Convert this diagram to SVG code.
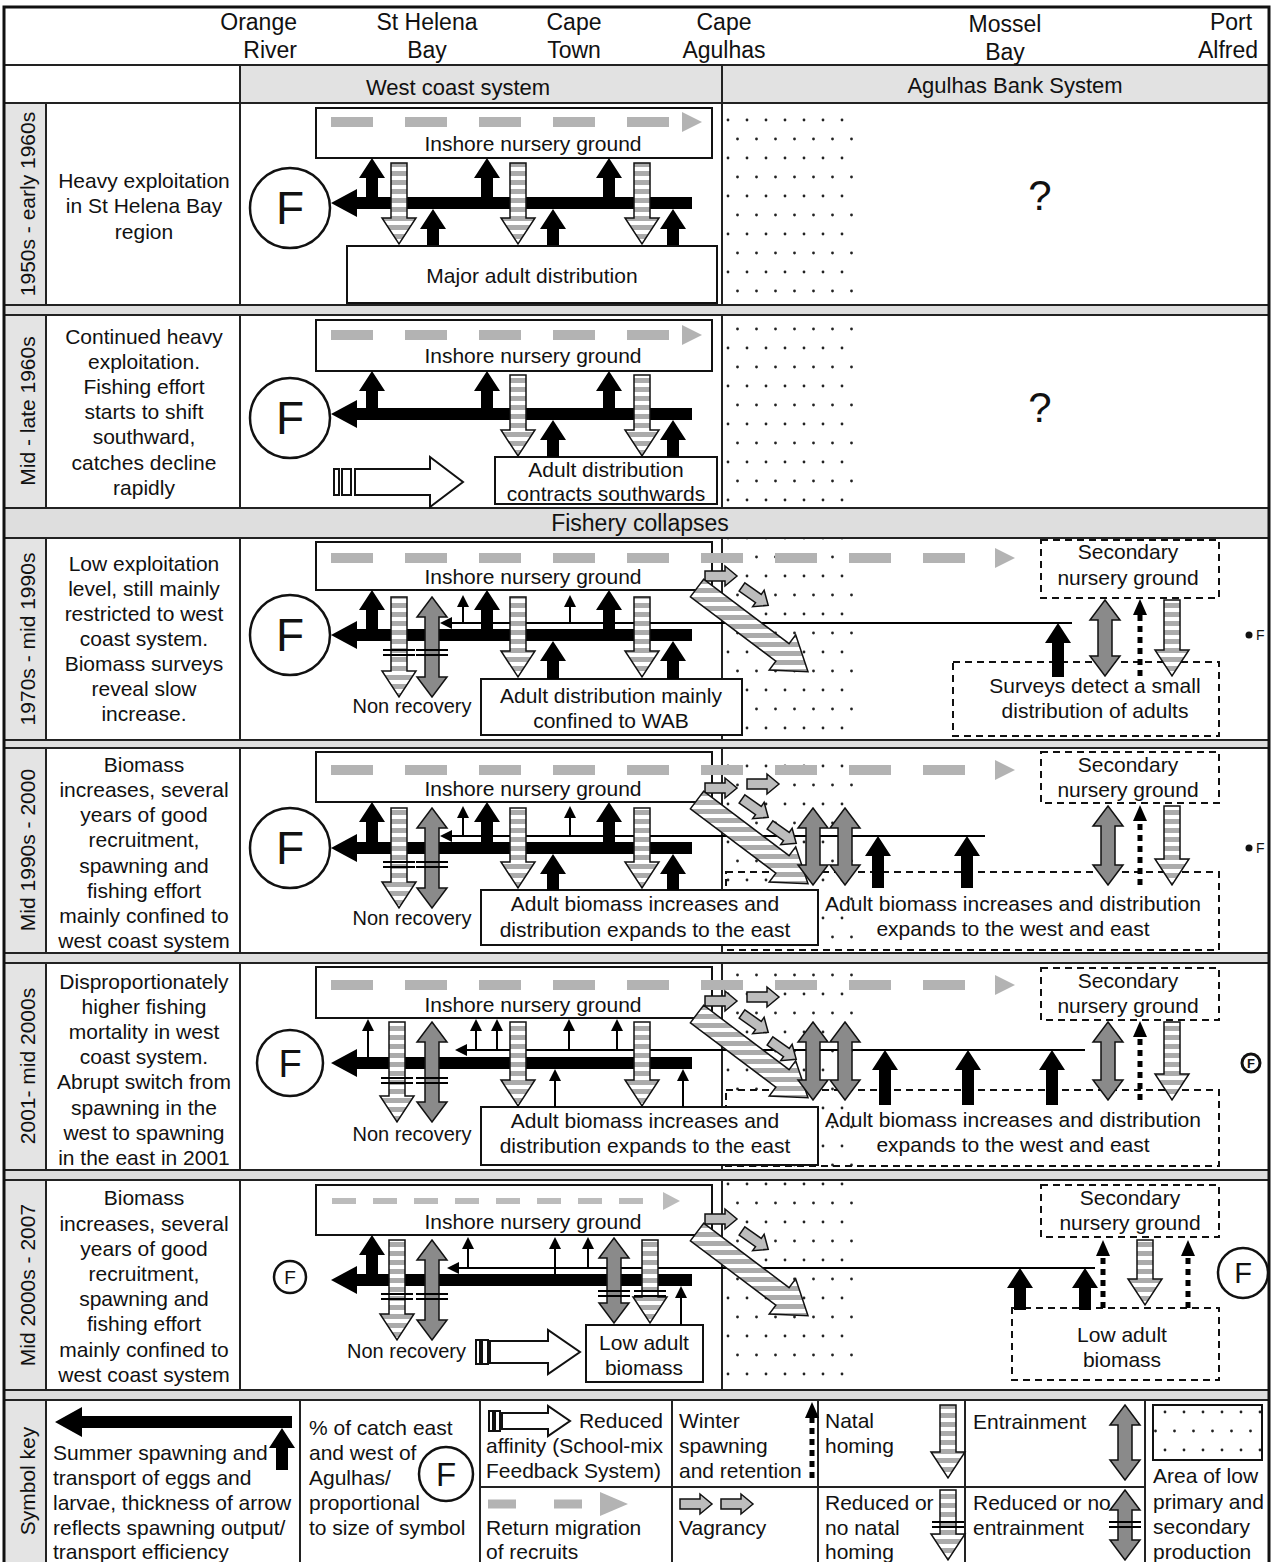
<svg xmlns="http://www.w3.org/2000/svg" xmlns:xlink="http://www.w3.org/1999/xlink" width="1271" height="1562" viewBox="0 0 1271 1562">
<style>
text{font-family:"Liberation Sans",Arial,Helvetica,sans-serif;fill:#111;font-size:21px}
.hd{font-size:23px;text-anchor:middle}
.c{text-anchor:middle}
.e{text-anchor:end}
.box{fill:#fff;stroke:#111;stroke-width:2}
.dbox{fill:none;stroke:#111;stroke-width:2;stroke-dasharray:7 5}
.blk{fill:#000}
.str{fill:url(#stripes);stroke:#111;stroke-width:1.5}
.strd{fill:url(#stripesD);stroke:#111;stroke-width:1.5}
.ent{fill:#8a8a8a;stroke:#111;stroke-width:1.5}
.vag{fill:#bdbdbd;stroke:#111;stroke-width:1.5}
.ret{stroke:#b3b3b3;stroke-width:10;stroke-dasharray:42 32;fill:none}
.ret2{stroke:#bcbcbc;stroke-width:6;stroke-dasharray:24 17;fill:none}
.reth{fill:#b3b3b3}
.thin{stroke:#000;stroke-width:2;fill:none}
.bar{stroke:#000;stroke-width:2.2}
.dt{stroke:#000;stroke-width:5;stroke-dasharray:6 5;fill:none}
.aff{fill:#fff;stroke:#111;stroke-width:2}
.fc{fill:#fff;stroke:#111;stroke-width:2.5}
.band{fill:#dedede;stroke:#222;stroke-width:2}
.yr{fill:#e4e4e4}
.grid{stroke:#222;stroke-width:2;fill:none}
.F{text-anchor:middle}
</style>
<defs>
<pattern id="dots" width="38" height="38" patternUnits="userSpaceOnUse">
<circle cx="6" cy="6" r="1.4" fill="#222"/><circle cx="25" cy="6" r="1.4" fill="#222"/>
<circle cx="15.5" cy="25" r="1.4" fill="#222"/><circle cx="34.5" cy="25" r="1.4" fill="#222"/>
</pattern>
<pattern id="stripes" width="10" height="9" patternUnits="userSpaceOnUse">
<rect width="10" height="9" fill="#fff"/><rect width="10" height="5" fill="#ababab"/>
</pattern>
<pattern id="stripesD" width="200" height="9" patternUnits="userSpaceOnUse" patternTransform="rotate(-37)">
<rect width="200" height="9" fill="#fff"/><rect width="200" height="5" fill="#ababab"/>
</pattern>
<path id="vag" class="vag" d="M0,-5H20V-10L32,0L20,10V5H0Z"/>
<path id="diag" class="strd" d="M0,-11H107V-22L139,0L107,22V11H0Z"/>
</defs>

<g id="frame">
<rect x="0" y="0" width="1271" height="1562" fill="#fff"/>
<rect x="240" y="65" width="1029" height="38" fill="#e2e2e2"/>
<rect class="yr" x="4" y="103" width="42" height="202"/>
<rect class="yr" x="4" y="315" width="42" height="193"/>
<rect class="yr" x="4" y="538" width="42" height="202"/>
<rect class="yr" x="4" y="748" width="42" height="205"/>
<rect class="yr" x="4" y="963" width="42" height="207"/>
<rect class="yr" x="4" y="1180" width="42" height="210"/>
<rect class="yr" x="4" y="1400" width="42" height="170"/>
<rect x="722" y="103" width="131" height="202" fill="url(#dots)"/>
<rect x="722" y="315" width="131" height="193" fill="url(#dots)"/>
<rect x="722" y="538" width="131" height="202" fill="url(#dots)"/>
<rect x="722" y="748" width="131" height="205" fill="url(#dots)"/>
<rect x="722" y="963" width="131" height="207" fill="url(#dots)"/>
<rect x="722" y="1180" width="131" height="210" fill="url(#dots)"/>
<rect class="band" x="4" y="305" width="1265" height="10"/>
<rect class="band" x="4" y="508" width="1265" height="30"/>
<rect class="band" x="4" y="740" width="1265" height="8"/>
<rect class="band" x="4" y="953" width="1265" height="10"/>
<rect class="band" x="4" y="1170" width="1265" height="10"/>
<rect class="band" x="4" y="1390" width="1265" height="10"/>
<path class="grid" d="M4,65H1269M4,103H1269M240,65V103M722,65V103
M46,103V305M240,103V305M722,103V305
M46,315V508M240,315V508M722,315V508
M46,538V740M240,538V740M722,538V740
M46,748V953M240,748V953M722,748V953
M46,963V1170M240,963V1170M722,963V1170
M46,1180V1390M240,1180V1390M722,1180V1390
M46,1400V1562M300,1400V1562M480,1400V1562M672,1400V1562M818,1400V1562M965,1400V1562M1145,1400V1562M480,1487H1145"/>
<rect x="4" y="7" width="1265" height="1570" fill="none" stroke="#111" stroke-width="3"/>
<text class="e" x="297" y="30" style="font-size:23px">Orange</text>
<text class="e" x="297" y="58" style="font-size:23px">River</text>
<text class="hd" x="427" y="30">St Helena</text>
<text class="hd" x="427" y="58">Bay</text>
<text class="hd" x="574" y="30">Cape</text>
<text class="hd" x="574" y="58">Town</text>
<text class="hd" x="724" y="30">Cape</text>
<text class="hd" x="724" y="58">Agulhas</text>
<text class="hd" x="1005" y="32">Mossel</text>
<text class="hd" x="1005" y="60">Bay</text>
<text class="hd" x="1231" y="30">Port</text>
<text class="hd" x="1228" y="58">Alfred</text>
<text class="hd" x="458" y="95" style="font-size:22px">West coast system</text>
<text class="hd" x="1015" y="93" style="font-size:22px">Agulhas Bank System</text>
<text class="hd" x="640" y="531">Fishery collapses</text>
</g>

<!-- ROW 1 -->
<g id="row1">
<text class="c" transform="translate(35,204) rotate(-90)">1950s - early 1960s</text>
<text class="c" x="144" y="188">Heavy exploitation</text>
<text class="c" x="144" y="213">in St Helena Bay</text>
<text class="c" x="144" y="239">region</text>
<g id="r1-nursery"><rect class="box" x="316" y="108" width="396" height="50"/><text class="c" x="533" y="151">Inshore nursery ground</text></g>
<g id="r1-adult"><rect class="box" x="347" y="246" width="370" height="57"/><text class="c" x="532" y="283">Major adult distribution</text></g>
<g id="r1-F"><circle class="fc" cx="290" cy="208" r="40"/><text class="F" x="290" y="224" style="font-size:46px">F</text></g>
<text class="c" x="1040" y="210" style="font-size:42px">?</text>
<g id="r1-connectors">
<line class="ret" x1="331" y1="122" x2="670" y2="122"/><path class="reth" d="M682,112L702,122L682,132Z"/>
<path class="blk" d="M331,203L357,189V197H692V209H357V217Z"/>
<path class="blk" d="M366,197V178H359L372,158L385,178H378V197Z"/>
<path class="blk" d="M481,197V178H474L487,158L500,178H493V197Z"/>
<path class="blk" d="M603,197V178H596L609,158L622,178H615V197Z"/>
<path class="blk" d="M427,245V229H420L433,209L446,229H439V245Z"/>
<path class="blk" d="M547,245V229H540L553,209L566,229H559V245Z"/>
<path class="blk" d="M667,245V229H660L673,209L686,229H679V245Z"/>
<path class="str" d="M391,163H407V218H416L399,244L382,218H391Z"/>
<path class="str" d="M510,163H526V218H535L518,244L501,218H510Z"/>
<path class="str" d="M634,163H650V218H659L642,244L625,218H634Z"/>
</g>
</g>

<!-- ROW 2 -->
<g id="row2">
<text class="c" transform="translate(35,411) rotate(-90)">Mid - late 1960s</text>
<text class="c" x="144" y="344">Continued heavy</text>
<text class="c" x="144" y="369">exploitation.</text>
<text class="c" x="144" y="394">Fishing effort</text>
<text class="c" x="144" y="419">starts to shift</text>
<text class="c" x="144" y="444">southward,</text>
<text class="c" x="144" y="470">catches decline</text>
<text class="c" x="144" y="495">rapidly</text>
<g id="r2-nursery"><rect class="box" x="316" y="320" width="396" height="51"/><text class="c" x="533" y="363">Inshore nursery ground</text></g>
<g id="r2-adult"><rect class="box" x="495" y="457" width="222" height="47"/><text class="c" x="606" y="477">Adult distribution</text><text class="c" x="606" y="501">contracts southwards</text></g>
<g id="r2-F"><circle class="fc" cx="290" cy="418" r="40"/><text class="F" x="290" y="434" style="font-size:46px">F</text></g>
<text class="c" x="1040" y="422" style="font-size:42px">?</text>
<g id="r2-connectors">
<line class="ret" x1="331" y1="335" x2="670" y2="335"/><path class="reth" d="M682,325L702,335L682,345Z"/>
<path class="blk" d="M331,414L357,400V408H692V420H357V428Z"/>
<path class="blk" d="M366,408V391H359L372,371L385,391H378V408Z"/>
<path class="blk" d="M481,408V391H474L487,371L500,391H493V408Z"/>
<path class="blk" d="M603,408V391H596L609,371L622,391H615V408Z"/>
<path class="blk" d="M547,457V440H540L553,420L566,440H559V457Z"/>
<path class="blk" d="M667,457V440H660L673,420L686,440H679V457Z"/>
<path class="str" d="M510,375H526V430H535L518,456L501,430H510Z"/>
<path class="str" d="M634,375H650V430H659L642,456L625,430H634Z"/>
<rect class="aff" x="334" y="469" width="5" height="26"/><rect class="aff" x="342" y="469" width="9" height="26"/>
<path class="aff" d="M355,469H430V457L463,482L430,507V495H355Z"/>
</g>
</g>

<!-- ROW 3 -->
<g id="row3">
<text class="c" transform="translate(35,639) rotate(-90)">1970s - mid 1990s</text>
<text class="c" x="144" y="571">Low exploitation</text>
<text class="c" x="144" y="596">level, still mainly</text>
<text class="c" x="144" y="621">restricted to west</text>
<text class="c" x="144" y="646">coast system.</text>
<text class="c" x="144" y="671">Biomass surveys</text>
<text class="c" x="144" y="696">reveal slow</text>
<text class="c" x="144" y="721">increase.</text>
<g id="r3-nursery"><rect class="box" x="316" y="542" width="396" height="48"/><text class="c" x="533" y="584">Inshore nursery ground</text></g>
<g id="r3-adult"><rect class="box" x="481" y="679" width="261" height="56"/><text class="c" x="611" y="703">Adult distribution mainly</text><text class="c" x="611" y="728">confined to WAB</text></g>
<g id="r3-secondary"><rect class="dbox" x="1041" y="540" width="178" height="58"/><text class="c" x="1128" y="559">Secondary</text><text class="c" x="1128" y="585">nursery ground</text></g>
<g id="r3-surveys"><rect class="dbox" x="953" y="662" width="266" height="74"/><text class="c" x="1095" y="693">Surveys detect a small</text><text class="c" x="1095" y="718">distribution of adults</text></g>
<g id="r3-F"><circle class="fc" cx="290" cy="635" r="40"/><text class="F" x="290" y="651" style="font-size:46px">F</text></g>
<g id="r3-Feast"><circle cx="1249" cy="635" r="3.5" fill="#111"/><text x="1256" y="640" style="font-size:14px">F</text></g>
<text class="c" x="412" y="713" style="font-size:20px">Non recovery</text>
<g id="r3-connectors">
<line class="ret" x1="331" y1="558" x2="965" y2="558"/><path class="reth" d="M995,548L1015,558L995,568Z"/>
<path class="blk" d="M331,635L357,621V629H692V641H357V649Z"/>
<line class="thin" x1="450" y1="623" x2="1072" y2="623"/><path class="blk" d="M440,623L452,617V629Z"/>
<path class="blk" d="M366,629V610H359L372,590L385,610H378V629Z"/>
<path class="blk" d="M481,629V610H474L487,590L500,610H493V629Z"/>
<path class="blk" d="M603,629V610H596L609,590L622,610H615V629Z"/>
<line class="thin" x1="463" y1="623" x2="463" y2="605"/><path class="blk" d="M457,607L463,595L469,607Z"/>
<line class="thin" x1="570" y1="623" x2="570" y2="605"/><path class="blk" d="M564,607L570,595L576,607Z"/>
<path class="str" d="M391,597H407V671H416L399,697L382,671H391Z"/>
<path class="ent" d="M432,597L447,617H439V677H447L432,697L417,677H425V617H417Z"/>
<path class="bar" d="M383,650H415M383,655H415M416,650H448M416,655H448"/>
<path class="str" d="M510,597H526V651H535L518,677L501,651H510Z"/>
<path class="str" d="M634,597H650V651H659L642,677L625,651H634Z"/>
<path class="blk" d="M547,679V661H540L553,641L566,661H559V679Z"/>
<path class="blk" d="M667,679V661H660L673,641L686,661H679V679Z"/>
<use xlink:href="#vag" href="#vag" transform="translate(705,576)"/>
<use xlink:href="#vag" href="#vag" transform="translate(742,587) rotate(35)"/>
<use xlink:href="#diag" href="#diag" transform="translate(697,588) rotate(37)"/>
<path class="blk" d="M1052,677V643H1045L1058,623L1071,643H1064V677Z"/>
<path class="ent" d="M1105,600L1120,620H1112V656H1120L1105,676L1090,656H1098V620H1090Z"/>
<line class="dt" x1="1140" y1="676" x2="1140" y2="614"/><path class="blk" d="M1133,615L1140,599L1147,615Z"/>
<path class="str" d="M1164,600H1180V650H1189L1172,676L1155,650H1164Z"/>
</g>
</g>

<!-- ROW 4 -->
<g id="row4">
<text class="c" transform="translate(35,850) rotate(-90)">Mid 1990s - 2000</text>
<text class="c" x="144" y="772">Biomass</text>
<text class="c" x="144" y="797">increases, several</text>
<text class="c" x="144" y="822">years of good</text>
<text class="c" x="144" y="847">recruitment,</text>
<text class="c" x="144" y="873">spawning and</text>
<text class="c" x="144" y="898">fishing effort</text>
<text class="c" x="144" y="923">mainly confined to</text>
<text class="c" x="144" y="948">west coast system</text>
<g id="r4-nursery"><rect class="box" x="316" y="752" width="396" height="50"/><text class="c" x="533" y="796">Inshore nursery ground</text></g>
<g id="r4-secondary"><rect class="dbox" x="1041" y="752" width="178" height="51"/><text class="c" x="1128" y="772">Secondary</text><text class="c" x="1128" y="797">nursery ground</text></g>
<g id="r4-eastadult"><rect class="dbox" x="726" y="872" width="493" height="78"/><text class="c" x="1013" y="911">Adult biomass increases and distribution</text><text class="c" x="1013" y="936">expands to the west and east</text></g>
<g id="r4-adult"><rect class="box" x="481" y="890" width="337" height="55"/><text class="c" x="645" y="911">Adult biomass increases and</text><text class="c" x="645" y="937">distribution expands to the east</text></g>
<g id="r4-F"><circle class="fc" cx="290" cy="848" r="40"/><text class="F" x="290" y="864" style="font-size:46px">F</text></g>
<g id="r4-Feast"><circle cx="1249" cy="848" r="3.5" fill="#111"/><text x="1256" y="853" style="font-size:14px">F</text></g>
<text class="c" x="412" y="925" style="font-size:20px">Non recovery</text>
<g id="r4-connectors">
<line class="ret" x1="331" y1="770" x2="965" y2="770"/><path class="reth" d="M995,760L1015,770L995,780Z"/>
<path class="blk" d="M331,848L357,834V842H692V854H357V862Z"/>
<line class="thin" x1="450" y1="836" x2="985" y2="836"/><path class="blk" d="M440,836L452,830V842Z"/>
<path class="blk" d="M366,842V822H359L372,802L385,822H378V842Z"/>
<path class="blk" d="M481,842V822H474L487,802L500,822H493V842Z"/>
<path class="blk" d="M603,842V822H596L609,802L622,822H615V842Z"/>
<line class="thin" x1="463" y1="836" x2="463" y2="816"/><path class="blk" d="M457,818L463,806L469,818Z"/>
<line class="thin" x1="570" y1="836" x2="570" y2="816"/><path class="blk" d="M564,818L570,806L576,818Z"/>
<path class="str" d="M391,808H407V882H416L399,908L382,882H391Z"/>
<path class="ent" d="M432,808L447,828H439V888H447L432,908L417,888H425V828H417Z"/>
<path class="bar" d="M383,862H415M383,867H415M416,862H448M416,867H448"/>
<path class="str" d="M510,808H526V862H535L518,888L501,862H510Z"/>
<path class="str" d="M634,808H650V862H659L642,888L625,862H634Z"/>
<path class="blk" d="M547,890V874H540L553,854L566,874H559V890Z"/>
<path class="blk" d="M667,890V874H660L673,854L686,874H679V890Z"/>
<use xlink:href="#vag" href="#vag" transform="translate(705,788)"/>
<use xlink:href="#vag" href="#vag" transform="translate(747,784)"/>
<use xlink:href="#vag" href="#vag" transform="translate(742,799) rotate(35)"/>
<use xlink:href="#vag" href="#vag" transform="translate(770,825) rotate(35)"/>
<use xlink:href="#diag" href="#diag" transform="translate(697,800) rotate(37)"/>
<path class="ent" d="M813,808L828,828H820V865H828L813,885L798,865H806V828H798Z"/>
<path class="ent" d="M845,808L860,828H852V865H860L845,885L830,865H838V828H830Z"/>
<path class="blk" d="M872,888V856H865L878,836L891,856H884V888Z"/>
<path class="blk" d="M961,888V856H954L967,836L980,856H973V888Z"/>
<path class="ent" d="M1108,806L1123,826H1115V865H1123L1108,885L1093,865H1101V826H1093Z"/>
<line class="dt" x1="1140" y1="885" x2="1140" y2="820"/><path class="blk" d="M1133,821L1140,805L1147,821Z"/>
<path class="str" d="M1164,806H1180V859H1189L1172,885L1155,859H1164Z"/>
</g>
</g>

<!-- ROW 5 -->
<g id="row5">
<text class="c" transform="translate(35,1066) rotate(-90)">2001- mid 2000s</text>
<text class="c" x="144" y="989">Disproportionately</text>
<text class="c" x="144" y="1014">higher fishing</text>
<text class="c" x="144" y="1039">mortality in west</text>
<text class="c" x="144" y="1064">coast system.</text>
<text class="c" x="144" y="1089">Abrupt switch from</text>
<text class="c" x="144" y="1115">spawning in the</text>
<text class="c" x="144" y="1140">west to spawning</text>
<text class="c" x="144" y="1165">in the east in 2001</text>
<g id="r5-nursery"><rect class="box" x="316" y="967" width="396" height="51"/><text class="c" x="533" y="1012">Inshore nursery ground</text></g>
<g id="r5-secondary"><rect class="dbox" x="1041" y="968" width="178" height="52"/><text class="c" x="1128" y="988">Secondary</text><text class="c" x="1128" y="1013">nursery ground</text></g>
<g id="r5-eastadult"><rect class="dbox" x="726" y="1090" width="493" height="76"/><text class="c" x="1013" y="1127">Adult biomass increases and distribution</text><text class="c" x="1013" y="1152">expands to the west and east</text></g>
<g id="r5-adult"><rect class="box" x="481" y="1107" width="337" height="58"/><text class="c" x="645" y="1128">Adult biomass increases and</text><text class="c" x="645" y="1153">distribution expands to the east</text></g>
<g id="r5-F"><circle class="fc" cx="290" cy="1063" r="33"/><text class="F" x="290" y="1077" style="font-size:38px">F</text></g>
<g id="r5-Feast"><circle cx="1251" cy="1063" r="9" fill="#fff" stroke="#111" stroke-width="3"/><text class="F" x="1251" y="1068" style="font-size:13px;font-weight:bold">F</text></g>
<text class="c" x="412" y="1141" style="font-size:20px">Non recovery</text>
<g id="r5-connectors">
<line class="ret" x1="331" y1="985" x2="965" y2="985"/><path class="reth" d="M995,975L1015,985L995,995Z"/>
<path class="blk" d="M331,1063L357,1049V1057H692V1069H357V1077Z"/>
<line class="thin" x1="465" y1="1050" x2="1085" y2="1050"/><path class="blk" d="M455,1050L467,1044V1056Z"/>
<line class="thin" x1="368" y1="1057" x2="368" y2="1029"/><path class="blk" d="M362,1031L368,1019L374,1031Z"/>
<line class="thin" x1="476" y1="1050" x2="476" y2="1029"/><path class="blk" d="M470,1031L476,1019L482,1031Z"/>
<line class="thin" x1="497" y1="1050" x2="497" y2="1029"/><path class="blk" d="M491,1031L497,1019L503,1031Z"/>
<line class="thin" x1="569" y1="1050" x2="569" y2="1029"/><path class="blk" d="M563,1031L569,1019L575,1031Z"/>
<line class="thin" x1="617" y1="1050" x2="617" y2="1029"/><path class="blk" d="M611,1031L617,1019L623,1031Z"/>
<path class="str" d="M389,1022H405V1096H414L397,1122L380,1096H389Z"/>
<path class="ent" d="M432,1022L447,1042H439V1102H447L432,1122L417,1102H425V1042H417Z"/>
<path class="bar" d="M381,1078H413M381,1083H413M416,1078H448M416,1083H448"/>
<path class="str" d="M510,1022H526V1080H535L518,1106L501,1080H510Z"/>
<path class="str" d="M634,1022H650V1080H659L642,1106L625,1080H634Z"/>
<line class="thin" x1="555" y1="1107" x2="555" y2="1079"/><path class="blk" d="M549,1081L555,1069L561,1081Z"/>
<line class="thin" x1="683" y1="1107" x2="683" y2="1079"/><path class="blk" d="M677,1081L683,1069L689,1081Z"/>
<use xlink:href="#vag" href="#vag" transform="translate(705,1001)"/>
<use xlink:href="#vag" href="#vag" transform="translate(747,997)"/>
<use xlink:href="#vag" href="#vag" transform="translate(742,1014) rotate(35)"/>
<use xlink:href="#vag" href="#vag" transform="translate(770,1041) rotate(35)"/>
<use xlink:href="#diag" href="#diag" transform="translate(697,1014) rotate(37)"/>
<path class="ent" d="M813,1022L828,1042H820V1080H828L813,1100L798,1080H806V1042H798Z"/>
<path class="ent" d="M845,1022L860,1042H852V1080H860L845,1100L830,1080H838V1042H830Z"/>
<path class="blk" d="M879,1105V1070H872L885,1050L898,1070H891V1105Z"/>
<path class="blk" d="M962,1105V1070H955L968,1050L981,1070H974V1105Z"/>
<path class="blk" d="M1046,1105V1070H1039L1052,1050L1065,1070H1058V1105Z"/>
<path class="ent" d="M1108,1022L1123,1042H1115V1080H1123L1108,1100L1093,1080H1101V1042H1093Z"/>
<line class="dt" x1="1140" y1="1100" x2="1140" y2="1036"/><path class="blk" d="M1133,1037L1140,1021L1147,1037Z"/>
<path class="str" d="M1164,1022H1180V1074H1189L1172,1100L1155,1074H1164Z"/>
</g>
</g>

<!-- ROW 6 -->
<g id="row6">
<text class="c" transform="translate(35,1285) rotate(-90)">Mid 2000s - 2007</text>
<text class="c" x="144" y="1205">Biomass</text>
<text class="c" x="144" y="1231">increases, several</text>
<text class="c" x="144" y="1256">years of good</text>
<text class="c" x="144" y="1281">recruitment,</text>
<text class="c" x="144" y="1306">spawning and</text>
<text class="c" x="144" y="1331">fishing effort</text>
<text class="c" x="144" y="1357">mainly confined to</text>
<text class="c" x="144" y="1382">west coast system</text>
<g id="r6-nursery"><rect class="box" x="316" y="1185" width="396" height="50"/><text class="c" x="533" y="1229">Inshore nursery ground</text></g>
<g id="r6-secondary"><rect class="dbox" x="1041" y="1185" width="178" height="52"/><text class="c" x="1130" y="1205">Secondary</text><text class="c" x="1130" y="1230">nursery ground</text></g>
<g id="r6-eastadult"><rect class="dbox" x="1012" y="1308" width="207" height="72"/><text class="c" x="1122" y="1342">Low adult</text><text class="c" x="1122" y="1367">biomass</text></g>
<g id="r6-adult"><rect class="box" x="586" y="1325" width="117" height="57"/><text class="c" x="644" y="1350">Low adult</text><text class="c" x="644" y="1375">biomass</text></g>
<g id="r6-F"><circle class="fc" cx="290" cy="1277" r="16"/><text class="F" x="290" y="1284" style="font-size:19px">F</text></g>
<g id="r6-Feast"><circle class="fc" cx="1243" cy="1273" r="25"/><text class="F" x="1243" y="1283" style="font-size:29px">F</text></g>
<text x="347" y="1358" style="font-size:20px">Non recovery</text>
<g id="r6-connectors">
<line class="ret2" x1="332" y1="1201" x2="650" y2="1201"/><path d="M663,1192L680,1201L663,1210Z" fill="#bcbcbc"/>
<path class="blk" d="M331,1280L357,1266V1274H692V1286H357V1294Z"/>
<line class="thin" x1="457" y1="1268" x2="1095" y2="1268"/><path class="blk" d="M447,1268L459,1262V1274Z"/>
<path class="blk" d="M366,1274V1255H359L372,1235L385,1255H378V1274Z"/>
<line class="thin" x1="468" y1="1268" x2="468" y2="1247"/><path class="blk" d="M462,1249L468,1237L474,1249Z"/>
<line class="thin" x1="555" y1="1274" x2="555" y2="1247"/><path class="blk" d="M549,1249L555,1237L561,1249Z"/>
<line class="thin" x1="588" y1="1268" x2="588" y2="1247"/><path class="blk" d="M582,1249L588,1237L594,1249Z"/>
<path class="str" d="M389,1240H405V1314H414L397,1340L380,1314H389Z"/>
<path class="ent" d="M432,1240L447,1260H439V1320H447L432,1340L417,1320H425V1260H417Z"/>
<path class="bar" d="M381,1294H413M381,1299H413M416,1294H448M416,1299H448"/>
<path class="ent" d="M614,1238L629,1258H621V1303H629L614,1323L599,1303H607V1258H599Z"/>
<path class="str" d="M642,1240H658V1297H667L650,1323L633,1297H642Z"/>
<path class="bar" d="M598,1291H630M598,1296H630M634,1291H666M634,1296H666"/>
<line class="thin" x1="681" y1="1325" x2="681" y2="1296"/><path class="blk" d="M675,1298L681,1286L687,1298Z"/>
<rect class="aff" x="476" y="1340" width="4" height="24"/><rect class="aff" x="482" y="1340" width="6" height="24"/>
<path class="aff" d="M490,1341H548V1330L580,1352L548,1374V1363H490Z"/>
<use xlink:href="#vag" href="#vag" transform="translate(705,1219)"/>
<use xlink:href="#vag" href="#vag" transform="translate(742,1231) rotate(35)"/>
<use xlink:href="#diag" href="#diag" transform="translate(697,1232) rotate(37)"/>
<path class="blk" d="M1014,1310V1288H1007L1020,1268L1033,1288H1026V1310Z"/>
<path class="blk" d="M1079,1310V1288H1072L1085,1268L1098,1288H1091V1310Z"/>
<line class="dt" x1="1103" y1="1308" x2="1103" y2="1255"/><path class="blk" d="M1096,1256L1103,1240L1110,1256Z"/>
<line class="dt" x1="1188" y1="1308" x2="1188" y2="1255"/><path class="blk" d="M1181,1256L1188,1240L1195,1256Z"/>
<path class="str" d="M1137,1240H1153V1279H1162L1145,1305L1128,1279H1137Z"/>
</g>
</g>

<!-- SYMBOL KEY -->
<g id="key">
<text class="c" transform="translate(35,1481) rotate(-90)">Symbol key</text>
<g id="key-spawning">
<path class="blk" d="M55,1422L82,1407V1416H292V1428H82V1437Z"/>
<path class="blk" d="M276,1470V1448H269L282,1428L295,1448H288V1470Z"/>
<text x="53" y="1460">Summer spawning and</text>
<text x="53" y="1485">transport of eggs  and</text>
<text x="53" y="1510">larvae, thickness of arrow</text>
<text x="53" y="1535">reflects spawning output/</text>
<text x="53" y="1559">transport efficiency</text>
</g>
<g id="key-catch">
<text x="309" y="1435">% of catch east</text>
<text x="309" y="1460">and west of</text>
<text x="309" y="1485">Agulhas/</text>
<text x="309" y="1510">proportional</text>
<text x="309" y="1535">to size of symbol</text>
<circle class="fc" cx="446" cy="1474" r="27"/><text class="F" x="446" y="1486" style="font-size:33px">F</text>
</g>
<g id="key-affinity">
<rect class="aff" x="489" y="1411" width="4" height="20"/><rect class="aff" x="495" y="1411" width="5" height="20"/>
<path class="aff" d="M502,1413H548V1406L570,1421L548,1436V1429H502Z"/>
<text class="e" x="663" y="1428">Reduced</text>
<text x="486" y="1453">affinity (School-mix</text>
<text x="486" y="1478">Feedback System)</text>
</g>
<g id="key-return">
<line stroke="#b3b3b3" stroke-width="9" stroke-dasharray="28 38" x1="488" y1="1504" x2="582" y2="1504"/>
<path class="reth" d="M600,1492L628,1504L600,1516Z"/>
<text x="486" y="1535">Return migration</text>
<text x="486" y="1559">of recruits</text>
</g>
<g id="key-winter">
<text x="679" y="1428">Winter</text>
<text x="679" y="1453">spawning</text>
<text x="679" y="1478">and retention</text>
<line class="dt" x1="812" y1="1478" x2="812" y2="1417"/><path class="blk" d="M805,1418L812,1402L819,1418Z"/>
</g>
<g id="key-vagrancy">
<use xlink:href="#vag" href="#vag" transform="translate(680,1504)"/>
<use xlink:href="#vag" href="#vag" transform="translate(721,1504)"/>
<text x="679" y="1535">Vagrancy</text>
</g>
<g id="key-natal">
<text x="825" y="1428">Natal</text>
<text x="825" y="1453">homing</text>
<path class="str" d="M940,1405H956V1452H965L948,1478L931,1452H940Z"/>
</g>
<g id="key-nonatal">
<text x="825" y="1510">Reduced or</text>
<text x="825" y="1535">no natal</text>
<text x="825" y="1559">homing</text>
<path class="str" d="M940,1490H956V1534H965L948,1560L931,1534H940Z"/>
<path class="bar" d="M932,1522H964M932,1527H964"/>
</g>
<g id="key-entrain">
<text x="973" y="1429">Entrainment</text>
<path class="ent" d="M1125,1405L1140,1425H1132V1460H1140L1125,1480L1110,1460H1118V1425H1110Z"/>
</g>
<g id="key-noentrain">
<text x="973" y="1510">Reduced or no</text>
<text x="973" y="1535">entrainment</text>
<path class="ent" d="M1125,1490L1140,1510H1132V1540H1140L1125,1560L1110,1540H1118V1510H1110Z"/>
<path class="bar" d="M1109,1522H1141M1109,1527H1141"/>
</g>
<g id="key-lowprod">
<rect x="1153" y="1405" width="109" height="55" fill="url(#dots)" stroke="#111" stroke-width="2"/>
<text x="1153" y="1483">Area of low</text>
<text x="1153" y="1509">primary and</text>
<text x="1153" y="1534">secondary</text>
<text x="1153" y="1559">production</text>
</g>
</g>
</svg>
